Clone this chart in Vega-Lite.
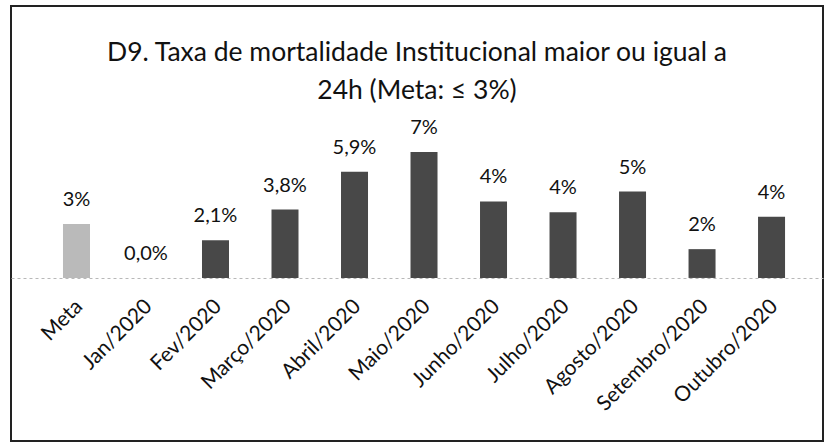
{
  "$schema": "https://vega.github.io/schema/vega-lite/v6.json",
  "autosize": "none",
  "width": 812,
  "height": 435,
  "padding": {"left": 11, "top": 6, "right": 1, "bottom": 5},
  "background": "white",
  "title": {
    "text": ["D9. Taxa de mortalidade Institucional maior ou igual a", "24h  (Meta: ≤ 3%)"],
    "anchor": "middle",
    "font": "Lato",
    "fontSize": 26.5,
    "fontWeight": "normal",
    "color": "#111111",
    "lineHeight": 38,
    "baseline": "bottom",
    "offset": -125
  },
  "data": {
    "values": [
      {"mes": "Meta", "taxa": 3.0, "rotulo": "3%", "tipo": "Meta"},
      {"mes": "Jan/2020", "taxa": 0.0, "rotulo": "0,0%", "tipo": "Realizado"},
      {"mes": "Fev/2020", "taxa": 2.1, "rotulo": "2,1%", "tipo": "Realizado"},
      {"mes": "Março/2020", "taxa": 3.8, "rotulo": "3,8%", "tipo": "Realizado"},
      {"mes": "Abril/2020", "taxa": 5.9, "rotulo": "5,9%", "tipo": "Realizado"},
      {"mes": "Maio/2020", "taxa": 7.0, "rotulo": "7%", "tipo": "Realizado"},
      {"mes": "Junho/2020", "taxa": 4.25, "rotulo": "4%", "tipo": "Realizado"},
      {"mes": "Julho/2020", "taxa": 3.65, "rotulo": "4%", "tipo": "Realizado"},
      {"mes": "Agosto/2020", "taxa": 4.8, "rotulo": "5%", "tipo": "Realizado"},
      {"mes": "Setembro/2020", "taxa": 1.6, "rotulo": "2%", "tipo": "Realizado"},
      {"mes": "Outubro/2020", "taxa": 3.4, "rotulo": "4%", "tipo": "Realizado"}
    ]
  },
  "encoding": {
    "x": {
      "field": "mes",
      "type": "nominal",
      "sort": null,
      "scale": {"paddingInner": 0.6115, "paddingOuter": 0.647, "align": 0.578},
      "axis": {
        "title": null,
        "orient": "bottom",
        "offset": -163,
        "labelAngle": -45,
        "labelAlign": "right",
        "labelBaseline": "middle",
        "labelFont": "Lato",
        "labelFontSize": 21,
        "labelColor": "#111111",
        "labelPadding": 25,
        "labelOffset": 3,
        "ticks": false,
        "domainColor": "#b8b8b8",
        "domainDash": [3, 3],
        "domainWidth": 1
      }
    },
    "y": {
      "field": "taxa",
      "type": "quantitative",
      "scale": {"domain": [-9.06, 15.11], "nice": false, "zero": false},
      "axis": null
    }
  },
  "layer": [
    {
      "mark": {"type": "bar"},
      "encoding": {
        "y2": {"datum": 0},
        "color": {
          "field": "tipo",
          "type": "nominal",
          "scale": {"domain": ["Meta", "Realizado"], "range": ["#bababa", "#484848"]},
          "legend": null
        }
      }
    },
    {
      "mark": {"type": "text", "font": "Lato", "fontSize": 20, "color": "#111111", "baseline": "middle", "dy": -24},
      "encoding": {
        "text": {"field": "rotulo"}
      }
    }
  ],
  "config": {
    "view": {"stroke": "#222222", "strokeWidth": 2}
  }
}
